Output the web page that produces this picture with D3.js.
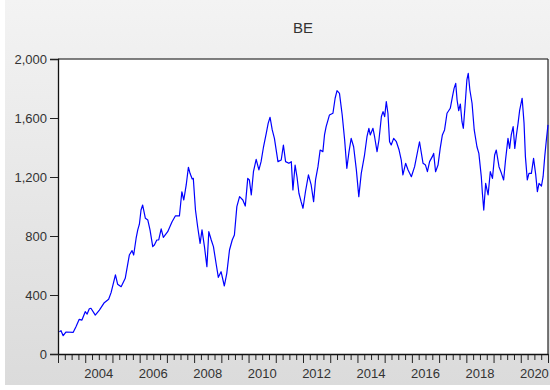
<!DOCTYPE html>
<html>
<head>
<meta charset="utf-8">
<script src="https://cdn.jsdelivr.net/npm/d3@7"></script>
<style>
  html, body { margin: 0; padding: 0; background: #fff; }
  svg { display: block; font-family: "Liberation Sans", Arial, sans-serif; }
</style>
</head>
<body>
<svg id="chart" width="550" height="390"></svg>
<script>
// series BE (decimal year, value)
const dates = [
  2003.05, 2003.11, 2003.19, 2003.29, 2003.56, 2003.66, 2003.78, 2003.88,
  2004.00, 2004.07, 2004.15, 2004.21, 2004.37, 2004.52, 2004.70, 2004.86, 2004.95,
  2005.11, 2005.19, 2005.32, 2005.47, 2005.62, 2005.72, 2005.78, 2005.87, 2005.93, 2005.99,
  2006.05, 2006.11, 2006.21, 2006.30, 2006.38, 2006.48, 2006.54, 2006.63, 2006.70, 2006.79, 2006.87,
  2007.03, 2007.19, 2007.31, 2007.46, 2007.55, 2007.62, 2007.71, 2007.79, 2007.85, 2007.93, 2007.97,
  2008.05, 2008.13, 2008.22, 2008.29, 2008.38, 2008.47, 2008.54, 2008.63, 2008.71, 2008.81, 2008.89, 2008.99,
  2009.11, 2009.20, 2009.30, 2009.40, 2009.48, 2009.57, 2009.67, 2009.79, 2009.88, 2009.97,
  2010.03, 2010.10, 2010.18, 2010.28, 2010.38, 2010.46, 2010.55, 2010.65, 2010.72, 2010.79, 2010.87, 2010.95,
  2011.08, 2011.20, 2011.28, 2011.36, 2011.48, 2011.57, 2011.63, 2011.71, 2011.78, 2011.85, 2011.93,
  2012.00, 2012.09, 2012.20, 2012.30, 2012.39, 2012.46, 2012.55, 2012.63, 2012.73, 2012.79, 2012.85, 2012.97,
  2013.10, 2013.18, 2013.25, 2013.34, 2013.44, 2013.53, 2013.61, 2013.69, 2013.77, 2013.86, 2013.96,
  2014.05, 2014.14, 2014.26, 2014.35, 2014.42, 2014.47, 2014.57, 2014.63, 2014.72, 2014.79, 2014.88, 2014.94,
  2015.00, 2015.06, 2015.12, 2015.18, 2015.24, 2015.33, 2015.43, 2015.53, 2015.61, 2015.67, 2015.77, 2015.86, 2015.98,
  2016.10, 2016.22, 2016.28, 2016.41, 2016.50, 2016.57, 2016.65, 2016.75, 2016.80, 2016.87, 2016.96,
  2017.04, 2017.12, 2017.20, 2017.29, 2017.41, 2017.49, 2017.55, 2017.61, 2017.66, 2017.72, 2017.78, 2017.84, 2017.89, 2017.96,
  2018.02, 2018.07, 2018.13, 2018.21, 2018.29, 2018.39, 2018.46, 2018.55, 2018.59, 2018.64, 2018.71, 2018.80, 2018.88, 2018.96,
  2019.04, 2019.10, 2019.20, 2019.29, 2019.37, 2019.44, 2019.53, 2019.59, 2019.65, 2019.72, 2019.78, 2019.84, 2019.90, 2019.96,
  2020.05, 2020.12, 2020.17, 2020.24, 2020.30, 2020.39, 2020.47, 2020.55, 2020.61, 2020.67, 2020.76, 2020.82, 2020.88, 2020.94, 2021.00
]
const beValues = [
  151, 158, 124, 149, 147, 185, 235, 230,
  287, 271, 307, 310, 264, 298, 348, 371, 416,
  536, 473, 456, 513, 671, 701, 671, 785, 841, 880,
  976, 1010, 920, 908, 841, 728, 739, 773, 773, 848, 791,
  829, 897, 936, 936, 1100, 1044, 1146, 1266, 1225, 1187, 1191,
  976, 863, 750, 841, 728, 592, 829, 773, 728, 610, 520, 558,
  461, 547, 705, 773, 807, 999, 1067, 1044, 1003, 1191,
  1180, 1078, 1236, 1320, 1248, 1304, 1405, 1496, 1564, 1605, 1519, 1462,
  1304, 1315, 1417, 1304, 1293, 1304, 1112, 1281, 1200, 1090, 1033,
  988, 1100, 1214, 1146, 1033, 1180, 1270, 1383, 1372, 1485, 1541, 1620,
  1632, 1734, 1785, 1767, 1620, 1451, 1259, 1372, 1462, 1405, 1248,
  1067, 1225, 1349, 1473, 1530, 1485, 1530, 1473, 1372, 1451, 1610, 1643,
  1609, 1711, 1632, 1439, 1417, 1462, 1439, 1383, 1315, 1214, 1293, 1248, 1202,
  1270, 1383, 1439, 1293, 1281, 1236, 1304, 1338, 1360, 1236, 1281,
  1394, 1485, 1519, 1632, 1666, 1745, 1801, 1835, 1722, 1650, 1695, 1575, 1530, 1700,
  1858, 1903, 1790, 1700, 1519, 1405, 1360, 1202, 1090, 976, 1157, 1078, 1236, 1191,
  1349, 1383, 1270, 1225, 1180, 1315, 1462, 1394, 1485, 1541, 1394, 1485, 1564, 1654,
  1734, 1564, 1338, 1180, 1225, 1225, 1326, 1214, 1101, 1157, 1139, 1202, 1338, 1451, 1553
]
const yTicks = [0, 400, 800, 1200, 1600, 2000]
const yearLabels = [2004, 2006, 2008, 2010, 2012, 2014, 2016, 2018, 2020]
const title = "BE"

const svg = d3.select("#chart")

// grey panel behind the plot
const grad = svg.append("defs").append("linearGradient")
    .attr("id", "bg").attr("x1", 0).attr("y1", 0).attr("x2", 0).attr("y2", 1)
grad.append("stop").attr("offset", "0%").attr("stop-color", "#f3f3f3")
grad.append("stop").attr("offset", "100%").attr("stop-color", "#dbdbdb")
svg.append("rect").attr("x", 5).attr("y", 0).attr("width", 545).attr("height", 385)
    .attr("fill", "url(#bg)")

const plotL = 58, plotR = 548, plotT = 59, plotB = 354

const x = d3.scaleLinear().domain([2003, 2021]).range([plotL, plotR])
const y = d3.scaleLinear().domain([0, 2000]).range([plotB, plotT])

svg.append("rect")
    .attr("x", plotL).attr("y", plotT)
    .attr("width", plotR - plotL).attr("height", plotB - plotT)
    .attr("fill", "#fff")

// frame top / right
svg.append("line").attr("x1", plotL).attr("x2", plotR).attr("y1", plotT).attr("y2", plotT)
    .attr("stroke", "#555").attr("stroke-width", 1.5)
svg.append("line").attr("x1", plotR).attr("x2", plotR).attr("y1", plotT).attr("y2", plotB)
    .attr("stroke", "#222").attr("stroke-width", 1.2)

// the series
const pts = dates.map((d, i) => [d, beValues[i]])
svg.append("path")
    .datum(pts)
    .attr("fill", "none")
    .attr("stroke", "#0000ff")
    .attr("stroke-width", 1.2)
    .attr("stroke-linejoin", "round")
    .attr("d", d3.line().x(d => x(d[0])).y(d => y(d[1])))

// y axis
const yAxis = svg.append("g")
    .attr("transform", `translate(${plotL},0)`)
    .call(d3.axisLeft(y).tickValues(yTicks).tickFormat(d3.format(",")).tickSize(8).tickPadding(3))
yAxis.selectAll("text").attr("font-size", 13).attr("fill", "#333")
    .attr("font-family", "Liberation Sans, Arial, sans-serif")
yAxis.selectAll("line").attr("stroke", "#222")
yAxis.select(".domain").attr("stroke", "#111").attr("stroke-width", 1.3)

// x axis: quarterly minor, yearly major ticks
const minorTicks = d3.range(2003, 2021.001, 0.25).filter(d => d % 1 !== 0)
const majorTicks = d3.range(2003, 2022, 1)

const xMinor = svg.append("g")
    .attr("transform", `translate(0,${plotB})`)
    .call(d3.axisBottom(x).tickValues(minorTicks).tickFormat("").tickSize(6).tickSizeOuter(0))
xMinor.select(".domain").remove()
xMinor.selectAll("line").attr("stroke", "#222")

const xMajor = svg.append("g")
    .attr("transform", `translate(0,${plotB})`)
    .call(d3.axisBottom(x).tickValues(majorTicks).tickFormat("").tickSize(9).tickSizeOuter(0))
xMajor.select(".domain").attr("stroke", "#111").attr("stroke-width", 1.3)
xMajor.selectAll("line").attr("stroke", "#222")

// year labels sit in the middle of their year
svg.append("g").selectAll("text")
    .data(yearLabels)
    .join("text")
    .attr("x", d => x(d + 0.5))
    .attr("y", 378)
    .attr("text-anchor", "middle")
    .attr("font-size", 13)
    .attr("fill", "#333")
    .text(d => d)

svg.append("text")
    .attr("x", 303).attr("y", 33)
    .attr("text-anchor", "middle")
    .attr("font-size", 15)
    .attr("fill", "#333")
    .text(title)
</script>
</body>
</html>
